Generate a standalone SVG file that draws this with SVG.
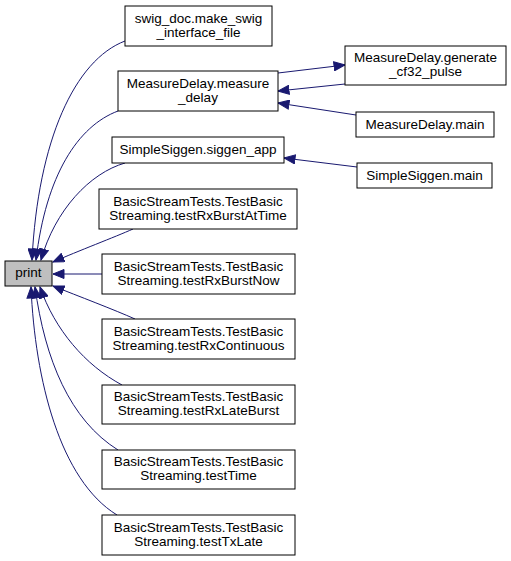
<svg xmlns="http://www.w3.org/2000/svg" width="511" height="561" viewBox="0 0 511 561">
<style>
.node rect{fill:#fff;stroke:#000;stroke-width:1}
.node text{font-family:"Liberation Sans",Arial,sans-serif;font-size:13.5px;fill:#000;text-anchor:middle}
#n_print rect{fill:#bfbfbf}
.edges path{fill:none;stroke:#191970;stroke-width:1;marker-end:url(#arr)}
</style>
<defs>
<marker id="arr" markerUnits="userSpaceOnUse" markerWidth="13" markerHeight="10" refX="11.5" refY="5" orient="auto" viewBox="0 0 13 10">
<path d="M0.5,0.5 L11.5,5 L0.5,9.5 z" fill="#191970" stroke="#191970" stroke-width="1"/>
</marker>
</defs>
<rect width="511" height="561" fill="#fff"/>
<g class="edges">
<path d="M125,41 C75,60 38,140 32,260"/>
<path d="M118,111 C78,126 46,175 36,260"/>
<path d="M125,163 C90,173 55,210 41,260"/>
<path d="M133,229 C115,237 78,251 53,262"/>
<path d="M102,274 L53,274"/>
<path d="M135,319 C115,310 78,296 53,286"/>
<path d="M122,385 C85,365 55,330 40,287"/>
<path d="M118,450 C70,420 45,360 35,287"/>
<path d="M117,515 C60,480 35,380 31,287"/>
<path d="M278,73 L345,65"/>
<path d="M345,84 L278,91"/>
<path d="M356,115 L278,103"/>
<path d="M357,167 L284,158"/>
</g>
<g id="n_print" class="node"><rect x="5" y="261" width="47" height="25"/><text x="28.5" y="277">print</text></g>
<g id="n_swig" class="node"><rect x="125" y="6" width="147" height="40"/><text x="198.5" y="23">swig_doc.make_swig</text><text x="198.5" y="37">_interface_file</text></g>
<g id="n_measure" class="node"><rect x="118" y="71" width="160" height="40"/><text x="198" y="88">MeasureDelay.measure</text><text x="198" y="102">_delay</text></g>
<g id="n_siggen" class="node"><rect x="112" y="137" width="172" height="26"/><text x="198" y="154">SimpleSiggen.siggen_app</text></g>
<g id="n_t1" class="node"><rect x="99" y="189" width="198" height="40"/><text x="198" y="206">BasicStreamTests.TestBasic</text><text x="198" y="220">Streaming.testRxBurstAtTime</text></g>
<g id="n_t2" class="node"><rect x="102" y="254" width="193" height="40"/><text x="198.5" y="271">BasicStreamTests.TestBasic</text><text x="198.5" y="285">Streaming.testRxBurstNow</text></g>
<g id="n_t3" class="node"><rect x="102" y="319" width="193" height="40"/><text x="198.5" y="336">BasicStreamTests.TestBasic</text><text x="198.5" y="350">Streaming.testRxContinuous</text></g>
<g id="n_t4" class="node"><rect x="102" y="385" width="193" height="39"/><text x="198.5" y="401">BasicStreamTests.TestBasic</text><text x="198.5" y="415">Streaming.testRxLateBurst</text></g>
<g id="n_t5" class="node"><rect x="102" y="450" width="193" height="39"/><text x="198.5" y="466">BasicStreamTests.TestBasic</text><text x="198.5" y="480">Streaming.testTime</text></g>
<g id="n_t6" class="node"><rect x="102" y="515" width="193" height="40"/><text x="198.5" y="532">BasicStreamTests.TestBasic</text><text x="198.5" y="546">Streaming.testTxLate</text></g>
<g id="n_gen" class="node"><rect x="345" y="46" width="161" height="39"/><text x="425.5" y="62">MeasureDelay.generate</text><text x="425.5" y="76">_cf32_pulse</text></g>
<g id="n_mdmain" class="node"><rect x="356" y="112" width="138" height="25"/><text x="425" y="129">MeasureDelay.main</text></g>
<g id="n_ssmain" class="node"><rect x="357" y="163" width="135" height="25"/><text x="424.5" y="180">SimpleSiggen.main</text></g>
</svg>
